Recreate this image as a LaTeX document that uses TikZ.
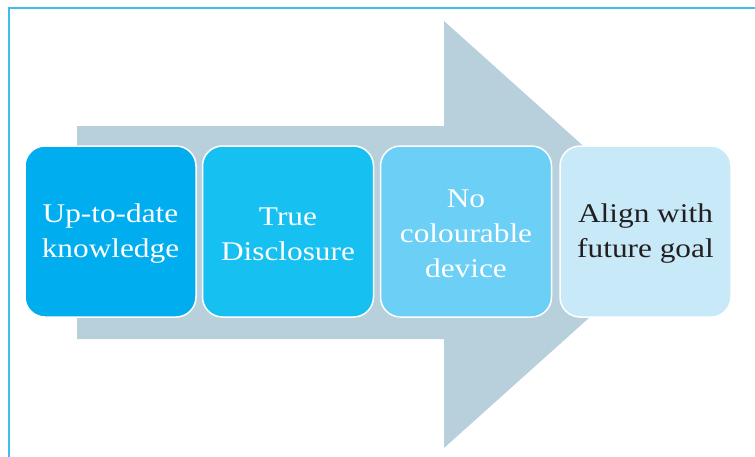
\documentclass[tikz,border=0pt]{standalone}
\usepackage{fontspec}
\newfontfamily\boxfont[FakeStretch=1.16]{Liberation Serif}
\definecolor{framecol}{RGB}{62,190,236}
\definecolor{arrowcol}{RGB}{184,208,220}
\definecolor{cone}{RGB}{0,174,239}
\definecolor{ctwo}{RGB}{22,193,241}
\definecolor{cthree}{RGB}{107,207,246}
\definecolor{cfour}{RGB}{199,233,248}
\definecolor{darktext}{RGB}{35,31,32}
\tikzset{
  stagebox/.style={draw=white, line width=1.5pt, rounded corners=20pt,
    minimum width=171pt, minimum height=171pt, inner sep=0pt},
  stagetext/.style={align=center, inner sep=0pt, yshift=-2.5pt,
    font=\boxfont\fontsize{27}{35}\selectfont},
  bigarrow/.style={fill=arrowcol},
  framebox/.style={draw=framecol, line width=2pt}
}
\begin{document}
\begin{tikzpicture}[x=1pt,y=-1pt]
\useasboundingbox (0,0) rectangle (755,456);
% outer frame (runs beyond the picture at right and bottom)
\draw[framebox] (8.5,470) -- (8.5,7.5) -- (770,7.5);
% big background arrow
\fill[bigarrow] (77,126) -- (444,126) -- (444,21) -- (682,234.5)
  -- (444,448) -- (444,339) -- (77,339) -- cycle;
% stages
\node[stagebox, fill=cone] (b1) at (110.5,231.5) {};
\node[stagebox, fill=ctwo] (b2) at (288,231.5) {};
\node[stagebox, fill=cthree] (b3) at (466,231.5) {};
\node[stagebox, fill=cfour] (b4) at (645.5,231.5) {};
\node[stagetext, text=white] (t1) at (b1.center) {Up-to-date\\knowledge};
\node[stagetext, text=white] (t2) at (b2.center) {True\\Disclosure};
\node[stagetext, text=white] (t3) at (b3.center) {No\\colourable\\device};
\node[stagetext, text=darktext] (t4) at (b4.center) {Align with\\future goal};
\end{tikzpicture}
\end{document}
